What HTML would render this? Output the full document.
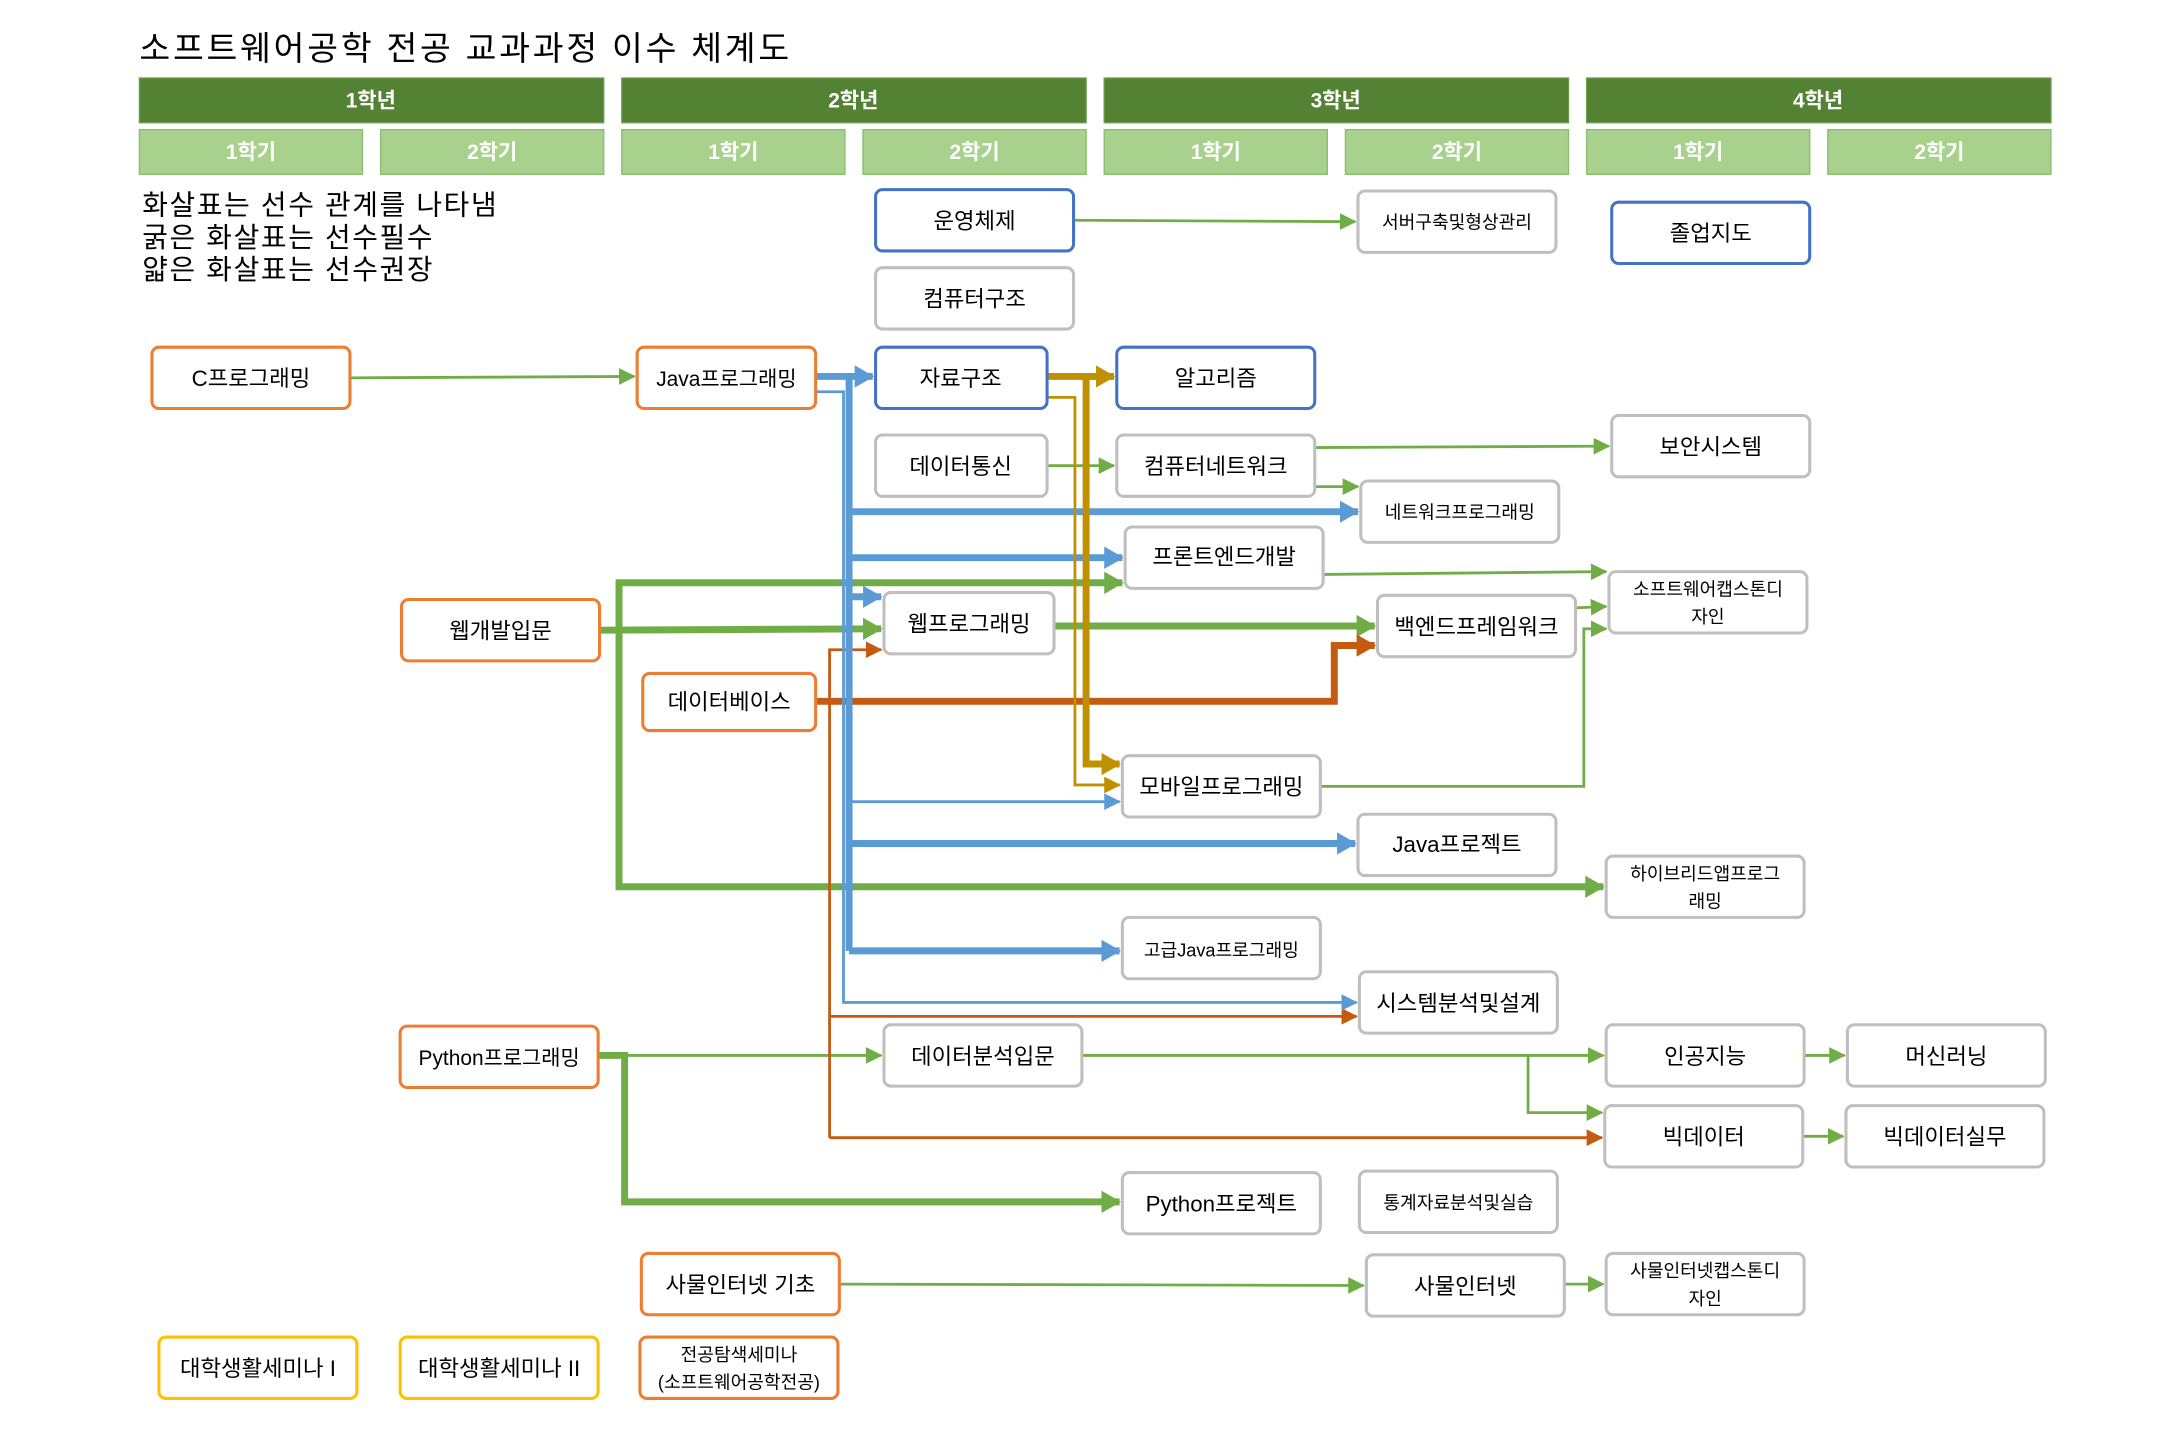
<!DOCTYPE html>
<html><head><meta charset="utf-8"><style>
html,body{margin:0;padding:0;background:#fff}
svg{display:block}
text{font-family:"Liberation Sans","Noto Sans CJK KR",sans-serif}
</style></head><body>
<svg width="2175" height="1450" viewBox="0 0 1560 1040" xmlns="http://www.w3.org/2000/svg">
<defs>
<marker id="g1" markerUnits="userSpaceOnUse" markerWidth="12" markerHeight="12" refX="11" refY="6" orient="auto"><path d="M0,0 L12,6 L0,12 z" fill="#70AD47"/></marker>
<marker id="g2" markerUnits="userSpaceOnUse" markerWidth="14" markerHeight="16" refX="13" refY="8" orient="auto"><path d="M0,0 L14,8 L0,16 z" fill="#70AD47"/></marker>
<marker id="b1" markerUnits="userSpaceOnUse" markerWidth="12" markerHeight="12" refX="11" refY="6" orient="auto"><path d="M0,0 L12,6 L0,12 z" fill="#5B9BD5"/></marker>
<marker id="b2" markerUnits="userSpaceOnUse" markerWidth="14" markerHeight="16" refX="13" refY="8" orient="auto"><path d="M0,0 L14,8 L0,16 z" fill="#5B9BD5"/></marker>
<marker id="y1" markerUnits="userSpaceOnUse" markerWidth="12" markerHeight="12" refX="11" refY="6" orient="auto"><path d="M0,0 L12,6 L0,12 z" fill="#BF9000"/></marker>
<marker id="y2" markerUnits="userSpaceOnUse" markerWidth="14" markerHeight="16" refX="13" refY="8" orient="auto"><path d="M0,0 L14,8 L0,16 z" fill="#BF9000"/></marker>
<marker id="o1" markerUnits="userSpaceOnUse" markerWidth="12" markerHeight="12" refX="11" refY="6" orient="auto"><path d="M0,0 L12,6 L0,12 z" fill="#C55A11"/></marker>
<marker id="o2" markerUnits="userSpaceOnUse" markerWidth="14" markerHeight="16" refX="13" refY="8" orient="auto"><path d="M0,0 L14,8 L0,16 z" fill="#C55A11"/></marker>
</defs>

<text x="100" y="43" font-size="24" letter-spacing="2" fill="#000">소프트웨어공학 전공 교과과정 이수 체계도</text>

<g fill="#548235" stroke="#6a9a4a" stroke-width="1">
<rect x="100" y="56" width="333" height="32"/><rect x="446" y="56" width="333" height="32"/>
<rect x="792" y="56" width="333" height="32"/><rect x="1138" y="56" width="333" height="32"/>
</g>
<g fill="#A9D18E" stroke="#8dbd6e" stroke-width="1">
<rect x="100" y="93" width="160" height="32"/><rect x="273" y="93" width="160" height="32"/>
<rect x="446" y="93" width="160" height="32"/><rect x="619" y="93" width="160" height="32"/>
<rect x="792" y="93" width="160" height="32"/><rect x="965" y="93" width="160" height="32"/>
<rect x="1138" y="93" width="160" height="32"/><rect x="1311" y="93" width="160" height="32"/>
</g>
<g fill="#fff" font-size="15" font-weight="bold" text-anchor="middle">
<text x="266" y="77">1학년</text><text x="612" y="77">2학년</text><text x="958" y="77">3학년</text><text x="1304" y="77">4학년</text>
<text x="180" y="114">1학기</text><text x="353" y="114">2학기</text><text x="526" y="114">1학기</text><text x="699" y="114">2학기</text>
<text x="872" y="114">1학기</text><text x="1045" y="114">2학기</text><text x="1218" y="114">1학기</text><text x="1391" y="114">2학기</text>
</g>

<g font-size="20" letter-spacing="1.2" fill="#000">
<text x="102" y="154">화살표는 선수 관계를 나타냄</text>
<text x="102" y="177">굵은 화살표는 선수필수</text>
<text x="102" y="200">얇은 화살표는 선수권장</text>
</g>

<g fill="none" stroke-linejoin="miter">
<g stroke="#70AD47" stroke-width="2">
<path d="M770,158 L972,159" marker-end="url(#g1)"/>
<path d="M251,271 L455,270" marker-end="url(#g1)"/>
<path d="M751,334 L799,334" marker-end="url(#g1)"/>
<path d="M943,321 L1154,320" marker-end="url(#g1)"/>
<path d="M943,349 L974,349" marker-end="url(#g1)"/>
<path d="M949,412 L1152,410" marker-end="url(#g1)"/>
<path d="M1130,436 L1152,435" marker-end="url(#g1)"/>
<path d="M947,564 L1136,564 L1136,451 L1152,451" marker-end="url(#g1)"/>
<path d="M429,757 L632,757" marker-end="url(#g1)"/>
<path d="M776,757 L1150,757" marker-end="url(#g1)"/>
<path d="M1096,757 L1096,798 L1149,798" marker-end="url(#g1)"/>
<path d="M1294,757 L1323,757" marker-end="url(#g1)"/>
<path d="M1293,815 L1322,815" marker-end="url(#g1)"/>
<path d="M602,921 L978,922" marker-end="url(#g1)"/>
<path d="M1122,921 L1150,921" marker-end="url(#g1)"/>
</g>
<g stroke="#70AD47" stroke-width="5">
<path d="M430,452 L632,451" marker-end="url(#g2)"/>
<path d="M444,452 L444,418 L805,418" marker-end="url(#g2)"/>
<path d="M444,452 L444,636 L1150,636" marker-end="url(#g2)"/>
<path d="M756,449 L986,449" marker-end="url(#g2)"/>
<path d="M429,757 L448,757 L448,862 L803,862" marker-end="url(#g2)"/>
</g>
<g stroke="#C55A11" stroke-width="2">
<path d="M595,816 L595,466 L632,466" marker-end="url(#o1)"/>
<path d="M595,729 L973,729" marker-end="url(#o1)"/>
<path d="M595,816 L1149,816" marker-end="url(#o1)"/>
</g>
<path d="M585,503 L957,503 L957,463 L986,463" stroke="#C55A11" stroke-width="5" marker-end="url(#o2)"/>
<g stroke="#5B9BD5" stroke-width="5">
<path d="M585,270 L626,270" marker-end="url(#b2)"/>
<path d="M609,270 L609,682"/>
<path d="M609,367 L974,367" marker-end="url(#b2)"/>
<path d="M609,400 L805,400" marker-end="url(#b2)"/>
<path d="M609,428 L632,428" marker-end="url(#b2)"/>
<path d="M609,605 L972,605" marker-end="url(#b2)"/>
<path d="M609,682 L803,682" marker-end="url(#b2)"/>
</g>
<g stroke="#5B9BD5" stroke-width="2">
<path d="M585,281 L605,281 L605,719 L973,719" marker-end="url(#b1)"/>
<path d="M609,575 L803,575" marker-end="url(#b1)"/>
</g>
<path d="M751,270 L799,270" stroke="#BF9000" stroke-width="5" marker-end="url(#y2)"/>
<path d="M779,270 L779,548 L803,548" stroke="#BF9000" stroke-width="5" marker-end="url(#y2)"/>
<path d="M751,285 L771,285 L771,563 L803,563" stroke="#BF9000" stroke-width="2" marker-end="url(#y1)"/>
</g>

<g fill="#fff" stroke-width="2.2">
<g stroke="#ED7D31">
<rect x="109" y="249" width="142" height="44" rx="5"/>
<rect x="457" y="249" width="128" height="44" rx="5"/>
<rect x="288" y="430" width="142" height="44" rx="5"/>
<rect x="461" y="483" width="124" height="41" rx="5"/>
<rect x="287" y="736" width="142" height="44" rx="5"/>
<rect x="460" y="899" width="142" height="44" rx="5"/>
<rect x="459" y="959" width="142" height="44" rx="5"/>
</g>
<g stroke="#4472C4">
<rect x="628" y="136" width="142" height="44" rx="5"/>
<rect x="1156" y="145" width="142" height="44" rx="5"/>
<rect x="628" y="249" width="123" height="44" rx="5"/>
<rect x="801" y="249" width="142" height="44" rx="5"/>
</g>
<g stroke="#FFC000">
<rect x="114" y="959" width="142" height="44" rx="5"/>
<rect x="287" y="959" width="142" height="44" rx="5"/>
</g>
<g stroke="#BFBFBF">
<rect x="628" y="192" width="142" height="44" rx="5"/>
<rect x="974" y="137" width="142" height="44" rx="5"/>
<rect x="628" y="312" width="123" height="44" rx="5"/>
<rect x="801" y="312" width="142" height="44" rx="5"/>
<rect x="1156" y="298" width="142" height="44" rx="5"/>
<rect x="976" y="345" width="142" height="44" rx="5"/>
<rect x="807" y="378" width="142" height="44" rx="5"/>
<rect x="1154" y="410" width="142" height="44" rx="5"/>
<rect x="634" y="425" width="122" height="44" rx="5"/>
<rect x="988" y="427" width="142" height="44" rx="5"/>
<rect x="805" y="542" width="142" height="44" rx="5"/>
<rect x="974" y="584" width="142" height="44" rx="5"/>
<rect x="1152" y="614" width="142" height="44" rx="5"/>
<rect x="805" y="658" width="142" height="44" rx="5"/>
<rect x="975" y="697" width="142" height="44" rx="5"/>
<rect x="634" y="735" width="142" height="44" rx="5"/>
<rect x="1152" y="735" width="142" height="44" rx="5"/>
<rect x="1325" y="735" width="142" height="44" rx="5"/>
<rect x="1151" y="793" width="142" height="44" rx="5"/>
<rect x="1324" y="793" width="142" height="44" rx="5"/>
<rect x="805" y="841" width="142" height="44" rx="5"/>
<rect x="975" y="840" width="142" height="44" rx="5"/>
<rect x="980" y="900" width="142" height="44" rx="5"/>
<rect x="1152" y="899" width="142" height="44" rx="5"/>
</g>
</g>

<g font-size="16" fill="#000" text-anchor="middle">
<text x="180" y="277">C프로그래밍</text>
<text x="521" y="277" font-size="15">Java프로그래밍</text>
<text x="359" y="458">웹개발입문</text>
<text x="523" y="509">데이터베이스</text>
<text x="358" y="764" font-size="15">Python프로그래밍</text>
<text x="531" y="927">사물인터넷 기초</text>
<text x="530" y="976" font-size="13">전공탐색세미나</text>
<text x="530" y="996" font-size="13">(소프트웨어공학전공)</text>
<text x="699" y="164">운영체제</text>
<text x="1227" y="173">졸업지도</text>
<text x="689" y="277">자료구조</text>
<text x="872" y="277">알고리즘</text>
<text x="185" y="987">대학생활세미나 I</text>
<text x="358" y="987">대학생활세미나 II</text>
<text x="699" y="220">컴퓨터구조</text>
<text x="1045" y="164" font-size="13">서버구축및형상관리</text>
<text x="689" y="340">데이터통신</text>
<text x="872" y="340">컴퓨터네트워크</text>
<text x="1227" y="326">보안시스템</text>
<text x="1047" y="372" font-size="13">네트워크프로그래밍</text>
<text x="878" y="405">프론트엔드개발</text>
<text x="1225" y="427" font-size="13">소프트웨어캡스톤디</text>
<text x="1225" y="447" font-size="13">자인</text>
<text x="695" y="453">웹프로그래밍</text>
<text x="1059" y="455">백엔드프레임워크</text>
<text x="876" y="570">모바일프로그래밍</text>
<text x="1045" y="611">Java프로젝트</text>
<text x="1223" y="631" font-size="13">하이브리드앱프로그</text>
<text x="1223" y="651" font-size="13">래밍</text>
<text x="876" y="686" font-size="13">고급Java프로그래밍</text>
<text x="1046" y="725">시스템분석및설계</text>
<text x="705" y="763">데이터분석입문</text>
<text x="1223" y="763">인공지능</text>
<text x="1396" y="763">머신러닝</text>
<text x="1222" y="821">빅데이터</text>
<text x="1395" y="821">빅데이터실무</text>
<text x="876" y="869">Python프로젝트</text>
<text x="1046" y="867" font-size="13">통계자료분석및실습</text>
<text x="1051" y="928">사물인터넷</text>
<text x="1223" y="916" font-size="13">사물인터넷캡스톤디</text>
<text x="1223" y="936" font-size="13">자인</text>
</g>
</svg>
</body></html>
